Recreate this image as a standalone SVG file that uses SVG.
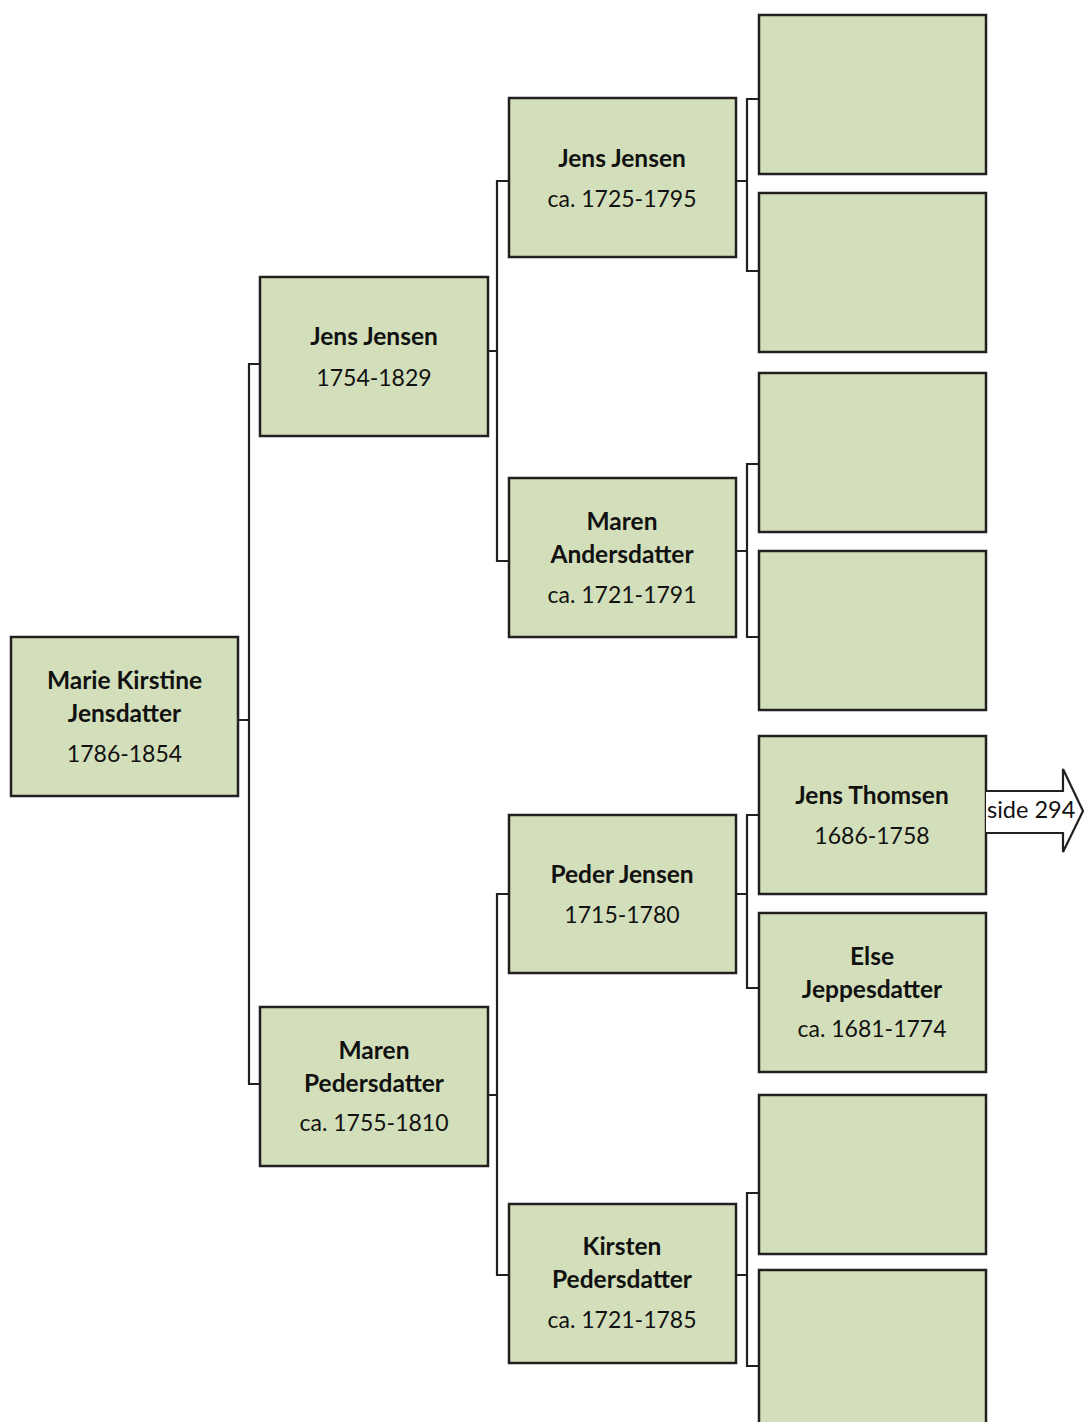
<svg xmlns="http://www.w3.org/2000/svg" width="1084" height="1422" viewBox="0 0 1084 1422">
<style>
.box{fill:#d3dfba;stroke:#231f20;stroke-width:2.5}
.ln{fill:none;stroke:#231f20;stroke-width:2.2}
text{font-family:Lato,"Open Sans",sans-serif;font-size:23px;fill:#111;text-anchor:middle}
.b{font-weight:bold;font-size:24.5px}
</style>
<rect width="1084" height="1422" fill="#fff"/>
<g id="connectors">
<path class="ln" d="M238,720 H249 M260,364 H249 V1084 H260"/>
<path class="ln" d="M488,351 H497 M509,181 H497 V561 H509"/>
<path class="ln" d="M488,1095 H497 M509,894 H497 V1275 H509"/>
<path class="ln" d="M736,181 H747 M759,99 H747 V271 H759"/>
<path class="ln" d="M736,551 H747 M759,464 H747 V637 H759"/>
<path class="ln" d="M736,894 H747 M759,815 H747 V988 H759"/>
<path class="ln" d="M736,1275 H747 M759,1193 H747 V1366 H759"/>
</g>
<g id="n1"><rect class="box" x="11" y="637" width="227" height="159"/>
<text class="b" x="124.5" y="689">Marie Kirstine</text><text class="b" x="124.5" y="722">Jensdatter</text><text x="124.5" y="762">1786-1854</text></g>
<g id="n2"><rect class="box" x="260" y="277" width="228" height="159"/>
<text class="b" x="374" y="345">Jens Jensen</text><text x="374" y="386">1754-1829</text></g>
<g id="n3"><rect class="box" x="260" y="1007" width="228" height="159"/>
<text class="b" x="374" y="1059">Maren</text><text class="b" x="374" y="1092">Pedersdatter</text><text x="374" y="1131">ca. 1755-1810</text></g>
<g id="n4"><rect class="box" x="509" y="98" width="227" height="159"/>
<text class="b" x="622" y="167">Jens Jensen</text><text x="622" y="207">ca. 1725-1795</text></g>
<g id="n5"><rect class="box" x="509" y="478" width="227" height="159"/>
<text class="b" x="622" y="530">Maren</text><text class="b" x="622" y="563">Andersdatter</text><text x="622" y="603">ca. 1721-1791</text></g>
<g id="n6"><rect class="box" x="509" y="815" width="227" height="158"/>
<text class="b" x="622" y="883">Peder Jensen</text><text x="622" y="923">1715-1780</text></g>
<g id="n7"><rect class="box" x="509" y="1204" width="227" height="159"/>
<text class="b" x="622" y="1255">Kirsten</text><text class="b" x="622" y="1288">Pedersdatter</text><text x="622" y="1328">ca. 1721-1785</text></g>
<g id="n8"><rect class="box" x="759" y="15" width="227" height="159"/></g>
<g id="n9"><rect class="box" x="759" y="193" width="227" height="159"/></g>
<g id="n10"><rect class="box" x="759" y="373" width="227" height="159"/></g>
<g id="n11"><rect class="box" x="759" y="551" width="227" height="159"/></g>
<g id="n12"><rect class="box" x="759" y="736" width="227" height="158"/>
<text class="b" x="872" y="804">Jens Thomsen</text><text x="872" y="844">1686-1758</text></g>
<g id="n13"><rect class="box" x="759" y="913" width="227" height="159"/>
<text class="b" x="872" y="965">Else</text><text class="b" x="872" y="998">Jeppesdatter</text><text x="872" y="1037">ca. 1681-1774</text></g>
<g id="n14"><rect class="box" x="759" y="1095" width="227" height="159"/></g>
<g id="n15"><rect class="box" x="759" y="1270" width="227" height="160"/></g>
<g id="arrow">
<path d="M986,791 H1063 V769 L1083,811 L1063,852 V833 H986" fill="#fff" stroke="#231f20" stroke-width="2.2" stroke-linejoin="miter"/>
<text x="987" y="818" style="text-anchor:start;font-size:23.5px">side 294</text>
</g>
</svg>
